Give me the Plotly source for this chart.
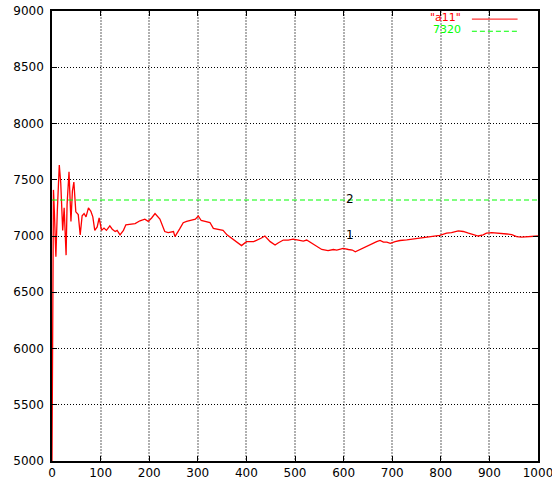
import plotly.graph_objects as go

# ---- data ----
steps = [0, 1, 3, 5, 8, 11, 15, 18, 22, 25, 29, 31, 35, 39, 42, 45, 49, 54, 58, 62,
         66, 70, 75, 80, 84, 88, 93, 97, 102, 107, 112, 119, 124, 130, 134, 140, 147,
         152, 160, 171, 181, 191, 198, 205, 212, 222, 232, 239, 250, 253, 263, 270,
         277, 287, 295, 301, 307, 315, 325, 332, 342, 352, 360, 370, 378, 390, 400,
         415, 430, 438, 449, 459, 466, 476, 486, 496, 507, 517, 524, 534, 545, 555,
         568, 579, 586, 599, 610, 618, 624, 634, 644, 651, 658, 668, 675, 682, 689,
         696, 706, 716, 730, 743, 757, 771, 785, 798, 812, 822, 836, 846, 857, 867,
         877, 887, 894, 905, 915, 925, 936, 946, 956, 966, 980, 994, 1000]
a11 = [5000, 5800, 7410, 7200, 6815, 7230, 7630, 7470, 7050, 7250, 6830, 7280, 7570,
       7130, 7400, 7480, 7215, 7190, 7010, 7180, 7200, 7170, 7250, 7220, 7170, 7050,
       7080, 7160, 7050, 7070, 7050, 7090, 7060, 7040, 7050, 7010, 7050, 7100, 7105,
       7110, 7135, 7150, 7130, 7160, 7200, 7150, 7040, 7030, 7040, 6995, 7065, 7118,
       7130, 7138, 7150, 7178, 7138, 7130, 7120, 7068, 7060, 7050, 7010, 6980, 6950,
       6915, 6950, 6950, 6980, 7000, 6950, 6920, 6940, 6964, 6964, 6973, 6964, 6955,
       6964, 6935, 6910, 6880, 6870, 6880, 6875, 6890, 6880, 6875, 6860, 6880, 6905,
       6920, 6935, 6950, 6960, 6945, 6945, 6935, 6950, 6960, 6965, 6973, 6980, 6990,
       6995, 7005, 7025, 7030, 7045, 7040, 7025, 7010, 7000, 7010, 7025, 7030, 7028,
       7025, 7018, 7012, 6995, 6990, 6995, 7000, 7000]
ref_value = 7320
ref_x = [0, 1000]
ref_y = [ref_value, ref_value]
series_names = ['"a11"', "7320"]
label_texts = ["1", "2"]
label_x = [600, 600]
label_y = [7010, 7330]
x_ticks = list(range(0, 1001, 100))
y_ticks = list(range(5000, 9001, 500))

FONT = "DejaVu Sans"
FS = 12
RED = "#ff0000"
GREEN = "#00ff00"

fig = go.Figure()
fig.add_trace(go.Scatter(x=steps, y=a11, mode="lines", name=series_names[0],
                         line=dict(color=RED, width=1.3), showlegend=False))
fig.add_trace(go.Scatter(x=ref_x, y=ref_y, mode="lines", name=series_names[1],
                         line=dict(color=GREEN, width=1, dash="5px,3px"), showlegend=False))

for t, lx, ly in zip(label_texts, label_x, label_y):
    fig.add_annotation(x=lx, y=ly, text=t, showarrow=False, xanchor="left",
                       yanchor="middle", font=dict(family=FONT, size=FS, color="black"))

# gnuplot-style key (text on the left, sample on the right)
key_rows = [(0.985, RED, "solid"), (0.958, GREEN, "5px,3px")]
for name, (ky, col, dash) in zip(series_names, key_rows):
    fig.add_annotation(xref="paper", yref="paper", x=0.845, y=ky, text=name,
                       showarrow=False, xanchor="right", yanchor="middle",
                       font=dict(family=FONT, size=11, color=col))
    fig.add_shape(type="line", xref="paper", yref="paper", x0=0.864, x1=0.958,
                  y0=ky - 0.003, y1=ky - 0.003, line=dict(color=col, width=1, dash=dash))

fig.update_layout(
    width=552, height=479,
    margin=dict(l=52, r=14, t=11, b=18),
    paper_bgcolor="white", plot_bgcolor="white",
    font=dict(family=FONT, size=FS, color="black"),
    showlegend=False,
    xaxis=dict(range=[0, 1000], tickvals=x_ticks, showgrid=True, gridcolor="#b0b0b0",
               gridwidth=1.5, griddash="2px,1px", zeroline=False, showline=True,
               linecolor="black", linewidth=1.5, mirror="allticks", ticks="inside",
               ticklen=5, tickcolor="black", automargin=False, ticklabeloverflow="allow",
               tickfont=dict(family=FONT, size=FS)),
    yaxis=dict(range=[5000, 9000], tickvals=y_ticks, showgrid=True, gridcolor="black",
               gridwidth=1, griddash="1px,2px", zeroline=False, showline=True,
               linecolor="black", linewidth=1.5, mirror="allticks", ticks="inside",
               ticklen=5, tickcolor="black", automargin=False, ticklabelstandoff=4,
               ticklabeloverflow="allow", tickfont=dict(family=FONT, size=FS)),
)

fig.write_html("out.html", config={"displayModeBar": False},
               post_script="document.body.style.margin='0';")
